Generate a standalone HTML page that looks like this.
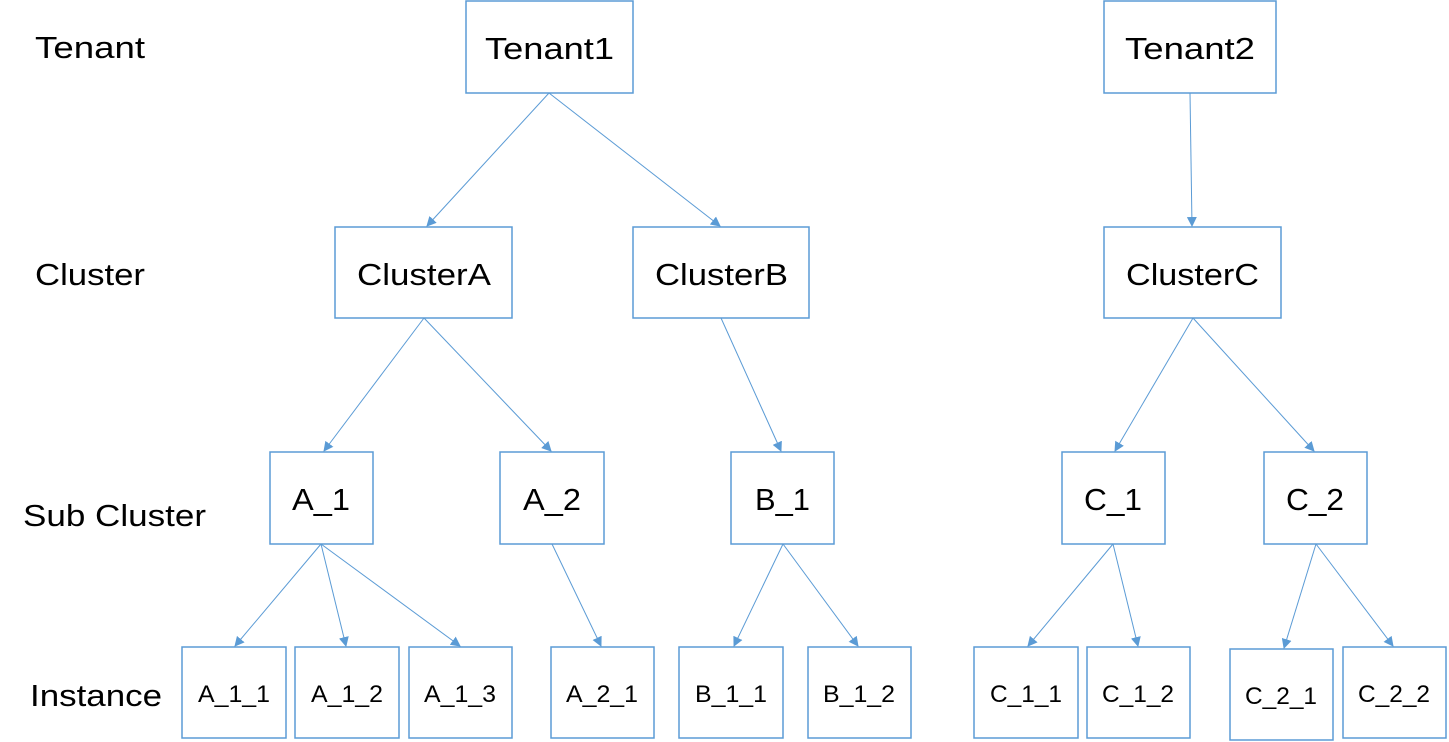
<!DOCTYPE html>
<html><head><meta charset="utf-8"><style>
html,body{margin:0;padding:0;background:#fff;}
svg{display:block;}
text{font-family:"Liberation Sans","Noto Sans CJK SC",sans-serif;fill:#000;}
</style></head><body>
<svg width="1449" height="742" viewBox="0 0 1449 742" xmlns="http://www.w3.org/2000/svg">
<defs>
<marker id="a" markerWidth="10" markerHeight="10" refX="9" refY="5" orient="auto" markerUnits="userSpaceOnUse">
<path d="M0,0 L10,5 L0,10 z" fill="#5b9bd5"/>
</marker>
</defs>
<g font-size="31" lengthAdjust="spacingAndGlyphs">
<text x="35" y="58" textLength="110" lengthAdjust="spacingAndGlyphs">Tenant</text>
<text x="35" y="285" textLength="110" lengthAdjust="spacingAndGlyphs">Cluster</text>
<text x="23" y="526" textLength="183" lengthAdjust="spacingAndGlyphs">Sub Cluster</text>
<text x="30" y="706" textLength="132" lengthAdjust="spacingAndGlyphs">Instance</text>
</g>
<g fill="none" stroke="#5b9bd5" stroke-width="1.5">
<rect x="466" y="1" width="167" height="92"/>
<rect x="1104" y="1" width="172" height="92"/>
<rect x="335" y="227" width="177" height="91"/>
<rect x="633" y="227" width="176" height="91"/>
<rect x="1104" y="227" width="177" height="91"/>
<rect x="270" y="452" width="103" height="92"/>
<rect x="500" y="452" width="104" height="92"/>
<rect x="731" y="452" width="103" height="92"/>
<rect x="1062" y="452" width="103" height="92"/>
<rect x="1264" y="452" width="103" height="92"/>
<rect x="182" y="647" width="104" height="91"/>
<rect x="295" y="647" width="104" height="91"/>
<rect x="409" y="647" width="103" height="91"/>
<rect x="551" y="647" width="103" height="91"/>
<rect x="679" y="647" width="104" height="91"/>
<rect x="808" y="647" width="103" height="91"/>
<rect x="974" y="647" width="104" height="91"/>
<rect x="1087" y="647" width="103" height="91"/>
<rect x="1230" y="649" width="103" height="91"/>
<rect x="1343" y="647" width="103" height="91"/>
</g>
<g stroke="#5b9bd5" stroke-width="1" marker-end="url(#a)">
<line x1="549" y1="93" x2="427" y2="226"/>
<line x1="549" y1="93" x2="720" y2="226"/>
<line x1="1190" y1="93" x2="1192" y2="226"/>
<line x1="424" y1="318" x2="324" y2="451"/>
<line x1="424" y1="318" x2="551" y2="451"/>
<line x1="721" y1="318" x2="781" y2="451"/>
<line x1="1193" y1="318" x2="1115" y2="451"/>
<line x1="1193" y1="318" x2="1314" y2="451"/>
<line x1="321" y1="544" x2="235" y2="646"/>
<line x1="321" y1="544" x2="346" y2="646"/>
<line x1="321" y1="544" x2="460" y2="646"/>
<line x1="552" y1="544" x2="601" y2="646"/>
<line x1="783" y1="544" x2="734" y2="646"/>
<line x1="783" y1="544" x2="858" y2="646"/>
<line x1="1113" y1="544" x2="1028" y2="646"/>
<line x1="1113" y1="544" x2="1138" y2="646"/>
<line x1="1316" y1="544" x2="1284" y2="648"/>
<line x1="1316" y1="544" x2="1393" y2="646"/>
</g>
<g font-size="31">
<text x="485" y="59" textLength="129" lengthAdjust="spacingAndGlyphs">Tenant1</text>
<text x="1125" y="59" textLength="130" lengthAdjust="spacingAndGlyphs">Tenant2</text>
<text x="357" y="285" textLength="134" lengthAdjust="spacingAndGlyphs">ClusterA</text>
<text x="655" y="285" textLength="133" lengthAdjust="spacingAndGlyphs">ClusterB</text>
<text x="1126" y="285" textLength="133" lengthAdjust="spacingAndGlyphs">ClusterC</text>
<text x="292" y="510" textLength="58" lengthAdjust="spacingAndGlyphs">A_1</text>
<text x="523" y="510" textLength="58" lengthAdjust="spacingAndGlyphs">A_2</text>
<text x="755" y="510" textLength="55" lengthAdjust="spacingAndGlyphs">B_1</text>
<text x="1084" y="510" textLength="58" lengthAdjust="spacingAndGlyphs">C_1</text>
<text x="1286" y="510" textLength="58" lengthAdjust="spacingAndGlyphs">C_2</text>
</g>
<g font-size="24">
<text x="198" y="702" textLength="72" lengthAdjust="spacingAndGlyphs">A_1_1</text>
<text x="311" y="702" textLength="72" lengthAdjust="spacingAndGlyphs">A_1_2</text>
<text x="424" y="702" textLength="72" lengthAdjust="spacingAndGlyphs">A_1_3</text>
<text x="566" y="702" textLength="72" lengthAdjust="spacingAndGlyphs">A_2_1</text>
<text x="695" y="702" textLength="72" lengthAdjust="spacingAndGlyphs">B_1_1</text>
<text x="823" y="702" textLength="72" lengthAdjust="spacingAndGlyphs">B_1_2</text>
<text x="990" y="702" textLength="72" lengthAdjust="spacingAndGlyphs">C_1_1</text>
<text x="1102" y="702" textLength="72" lengthAdjust="spacingAndGlyphs">C_1_2</text>
<text x="1245" y="704" textLength="72" lengthAdjust="spacingAndGlyphs">C_2_1</text>
<text x="1358" y="702" textLength="72" lengthAdjust="spacingAndGlyphs">C_2_2</text>
</g>
</svg>
</body></html>
